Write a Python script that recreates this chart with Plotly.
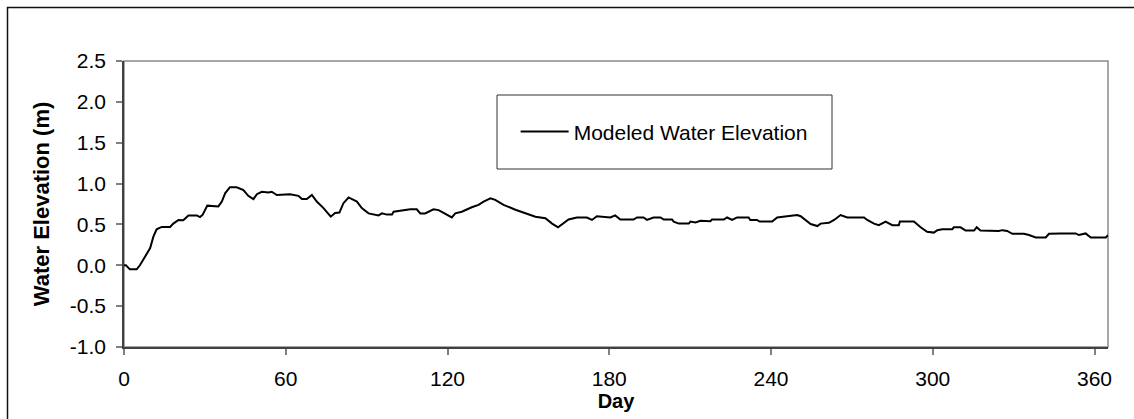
import plotly.graph_objects as go

day = [0, 0.7, 2.2, 4.7, 5.9, 7.8, 9.7, 10.9, 12.1, 14.0, 17.1, 18.3, 20.2, 22.0, 23.9, 27.0,
       28.2, 29.2, 30.9, 35.0, 36.3, 37.5, 39.3, 41.8, 44.3, 46.1, 48.0, 49.3, 51.1, 53.6,
       54.8, 56.7, 61.6, 64.7, 66.0, 67.8, 69.7, 71.5, 74.0, 76.7, 78.3, 79.9, 81.4, 83.3,
       86.4, 88.2, 90.7, 94.4, 95.7, 97.5, 99.4, 100.0, 103.7, 106.2, 108.6, 109.9, 111.7,
       114.8, 116.7, 119.8, 121.6, 122.9, 125.3, 129.0, 131.5, 133.4, 135.9, 137.7, 140.8,
       145.2, 148.9, 152.6, 156.3, 158.8, 161.0, 163.1, 164.9, 168.0, 171.7, 173.6, 175.4,
       180.4, 182.2, 184.1, 189.0, 190.3, 192.7, 194.0, 196.4, 199.0, 200.2, 203.3, 203.9,
       205.8, 209.5, 210.1, 212.0, 213.8, 217.5, 218.1, 222.5, 223.7, 225.6, 227.4, 231.7,
       232.3, 234.8, 235.8, 240.4, 242.3, 246.0, 249.7, 251.0, 252.8, 254.7, 257.2, 258.4,
       261.5, 263.4, 265.8, 268.3, 274.5, 275.7, 278.2, 280.0, 282.5, 285.0, 287.4, 287.8,
       293.0, 295.5, 297.9, 300.4, 301.7, 303.5, 307.2, 307.8, 310.3, 312.2, 315.3, 316.3,
       317.7, 324.5, 325.8, 327.6, 329.5, 333.8, 335.7, 338.2, 341.9, 343.1, 347.4, 353.0,
       354.2, 356.7, 358.6, 364.2, 365.0]

elevation = [0.0, 0.0, -0.05, -0.05, 0.0, 0.105, 0.21, 0.35, 0.44, 0.47, 0.47, 0.51, 0.555, 0.55,
             0.61, 0.61, 0.59, 0.62, 0.73, 0.72, 0.78, 0.88, 0.955, 0.955, 0.92, 0.85, 0.81,
             0.87, 0.90, 0.89, 0.90, 0.86, 0.87, 0.85, 0.81, 0.81, 0.86, 0.78, 0.70, 0.595,
             0.64, 0.645, 0.76, 0.83, 0.78, 0.70, 0.635, 0.61, 0.635, 0.62, 0.62, 0.655, 0.67,
             0.685, 0.685, 0.635, 0.635, 0.685, 0.675, 0.615, 0.585, 0.635, 0.655, 0.71, 0.74,
             0.78, 0.82, 0.80, 0.74, 0.68, 0.635, 0.595, 0.575, 0.51, 0.465, 0.52, 0.56, 0.585,
             0.585, 0.555, 0.60, 0.585, 0.61, 0.56, 0.56, 0.585, 0.585, 0.555, 0.585, 0.585,
             0.56, 0.56, 0.535, 0.51, 0.51, 0.535, 0.525, 0.545, 0.54, 0.56, 0.56, 0.585, 0.555,
             0.585, 0.585, 0.555, 0.555, 0.535, 0.535, 0.585, 0.60, 0.615, 0.60, 0.555, 0.505,
             0.48, 0.51, 0.52, 0.555, 0.615, 0.585, 0.585, 0.555, 0.51, 0.49, 0.535, 0.49, 0.49,
             0.535, 0.535, 0.465, 0.41, 0.40, 0.43, 0.44, 0.44, 0.465, 0.465, 0.425, 0.425,
             0.465, 0.425, 0.42, 0.43, 0.42, 0.385, 0.385, 0.37, 0.34, 0.34, 0.385, 0.39, 0.39,
             0.37, 0.39, 0.34, 0.34, 0.37]

x_ticks = [0, 60, 120, 180, 240, 300, 360]
y_ticks = [-1.0, -0.5, 0.0, 0.5, 1.0, 1.5, 2.0, 2.5]

FONT = "Liberation Sans, Arial, sans-serif"

fig = go.Figure()
fig.add_trace(go.Scatter(x=day, y=elevation, mode="lines", name="Modeled Water Elevation",
                         line=dict(color="black", width=2)))

fig.update_layout(
    width=1134, height=419,
    margin=dict(l=124, r=26, t=61, b=72),
    paper_bgcolor="white", plot_bgcolor="white",
    font=dict(family=FONT, size=21, color="black"),
    showlegend=True,
    legend=dict(x=0.398, y=0.752, xanchor="left", yanchor="middle",
                bgcolor="rgba(0,0,0,0)", borderwidth=0, itemwidth=48,
                font=dict(family=FONT, size=21, color="black")),
    xaxis=dict(range=[0, 365], tickvals=x_ticks, ticktext=[str(v) for v in x_ticks],
               showgrid=False, zeroline=False, showline=True, linecolor="#404040", linewidth=1.5,
               ticks="outside", ticklen=6, tickcolor="#808080", tickwidth=1.5,
               ticklabelstandoff=6,
               tickfont=dict(family=FONT, size=21),
               title=dict(text="<b>Day</b>", font=dict(family=FONT, size=20), standoff=4)),
    yaxis=dict(range=[-1, 2.5], tickvals=y_ticks, ticktext=[f"{v:.1f}" for v in y_ticks],
               showgrid=False, zeroline=False, showline=True, linecolor="#404040", linewidth=1.5,
               ticks="outside", ticklen=6, tickcolor="#808080", tickwidth=1.5,
               ticklabelstandoff=6,
               tickfont=dict(family=FONT, size=21),
               title=dict(text="<b>Water Elevation (m)</b>", font=dict(family=FONT, size=22),
                          standoff=14)),
    shapes=[
        dict(type="rect", xref="paper", yref="paper", x0=0, x1=1, y0=0, y1=1,
             line=dict(color="#8a8a8a", width=1.5), layer="below"),
        dict(type="rect", xref="paper", yref="paper",
             x0=(497 - 124) / 984, x1=(832 - 124) / 984,
             y0=(347 - 169) / 286, y1=(347 - 95) / 286,
             line=dict(color="#333333", width=1), layer="above"),
        dict(type="rect", xref="paper", yref="paper",
             x0=(7.5 - 124) / 984, x1=2.0, y0=-2.0, y1=(347 - 7.5) / 286,
             line=dict(color="#111111", width=1.5), layer="above"),
    ],
)

fig.write_html("out.html")
